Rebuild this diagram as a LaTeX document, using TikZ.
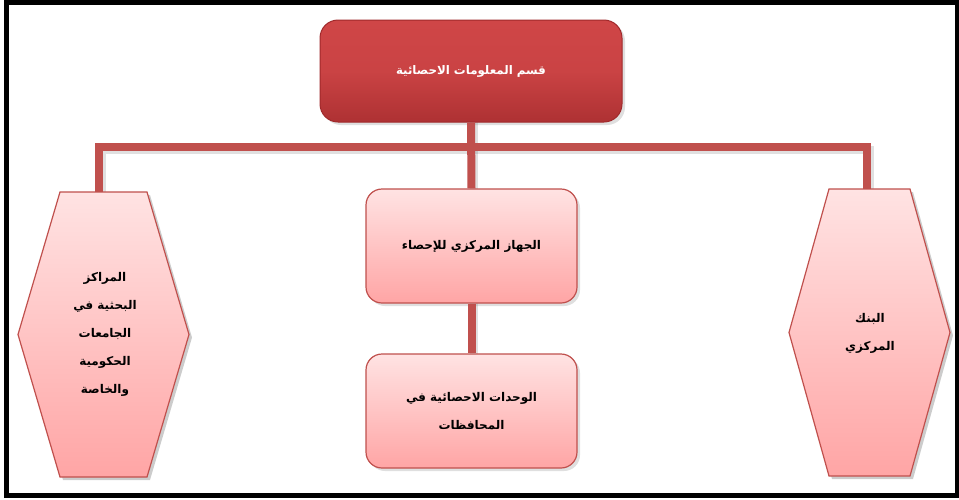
\documentclass[tikz,border=0pt]{standalone}
\usepackage{fontspec}
\TeXXeTstate=1
\newfontfamily\arabicfont[Script=Arabic]{DejaVu Sans}
\usetikzlibrary{calc,shadows}
\definecolor{conncol}{HTML}{C0504D}
\definecolor{pinktop}{HTML}{FFE3E3}
\definecolor{pinkbot}{HTML}{FFA5A5}
\definecolor{redtop}{HTML}{CF4647}
\definecolor{redbot}{HTML}{AE3133}
\definecolor{redline}{HTML}{A0292B}
\tikzset{
  conn/.style={line width=8pt, draw=conncol, line join=miter, line cap=butt},
  connshadow/.style={line width=8pt, draw=black, opacity=0.12, line join=miter, line cap=butt},
  topbox/.style={rounded corners=18pt, minimum width=302pt, minimum height=102pt,
    top color=redtop, bottom color=redbot, middle color=redtop!85!redbot, draw=redline, line width=1pt,
    text=white, drop shadow={opacity=0.25, shadow xshift=3pt, shadow yshift=-3pt},
    font=\arabicfont\bfseries\fontsize{11.8}{14}\selectfont},
  midbox/.style={rounded corners=16pt, minimum width=211pt, minimum height=114pt,
    top color=pinktop, bottom color=pinkbot, draw=conncol, line width=1.2pt,
    drop shadow={opacity=0.25, shadow xshift=3pt, shadow yshift=-3pt},
    align=center, font=\arabicfont\bfseries\fontsize{12}{28}\selectfont},
  hexframe/.style={inner sep=0pt, outer sep=0pt},
  hexfill/.style={top color=pinktop, bottom color=pinkbot, draw=conncol, line width=1.2pt},
  hexshadow/.style={fill=black, opacity=0.2},
  hextext/.style={align=center, font=\arabicfont\bfseries\fontsize{12}{28}\selectfont}
}
\begin{document}
\begin{tikzpicture}[x=1pt,y=-1pt]
\useasboundingbox (0,0) rectangle (959,499);
\fill[white] (0,0) rectangle (959,499);
\draw[line width=5pt] (6.5,2) rectangle (957,495);

% nodes (frames)
\node[hexframe, minimum width=87pt, minimum height=285pt] (L) at (103.5,334.5) {};
\node[hexframe, minimum width=81pt, minimum height=287pt] (R) at (869.5,332.5) {};
\coordinate (bar) at (0,147);
\coordinate (Lc) at (99,192);
\coordinate (Rc) at (867,189);

% connector shadows
\draw[connshadow] ($(Lc)+(3,0)$) -- ($(Lc |- bar)+(3,3)$) -- ($(Rc |- bar)+(3,3)$) -- ($(Rc)+(3,0)$);
\draw[connshadow] (474,122) -- (474,190);
\draw[connshadow] (474,303) -- (474,355);

\node[topbox] (T) at (471,71) {\beginR قسم المعلومات الاحصائية\endR};
\node[midbox] (M1) at (471.5,246) {\beginR الجهاز المركزي للإحصاء\endR};
\node[midbox] (M2) at (471.5,411) {\beginR الوحدات الاحصائية في\endR\\\beginR المحافظات\endR};

% connectors
\draw[conn] (Lc) -- (Lc |- bar) -- (Rc |- bar) -- (Rc);
\draw[conn] (T.south) -- (M1.north);
\draw[conn] (M1.south) -- (M2.north);

% hexagons
\path[hexshadow] ($(L.north west)+(3,3)$) -- ($(L.north east)+(3,3)$) -- ($(L.east)+(45,3)$) -- ($(L.south east)+(3,3)$) -- ($(L.south west)+(3,3)$) -- ($(L.west)+(-39,3)$) -- cycle;
\path[hexfill] (L.north west) -- (L.north east) -- ($(L.east)+(42,0)$) -- (L.south east) -- (L.south west) -- ($(L.west)+(-42,0)$) -- cycle;
\path[hexshadow] ($(R.north west)+(3,3)$) -- ($(R.north east)+(3,3)$) -- ($(R.east)+(43,3)$) -- ($(R.south east)+(3,3)$) -- ($(R.south west)+(3,3)$) -- ($(R.west)+(-37,3)$) -- cycle;
\path[hexfill] (R.north west) -- (R.north east) -- ($(R.east)+(40,0)$) -- (R.south east) -- (R.south west) -- ($(R.west)+(-40,0)$) -- cycle;

\node[hextext] (Lt) at (105,334) {\beginR المراكز\endR\\\beginR البحثية في\endR\\\beginR الجامعات\endR\\\beginR الحكومية\endR\\\beginR والخاصة\endR};
\node[hextext] (Rt) at (870,333) {\beginR البنك\endR\\\beginR المركزي\endR};
\end{tikzpicture}
\end{document}
